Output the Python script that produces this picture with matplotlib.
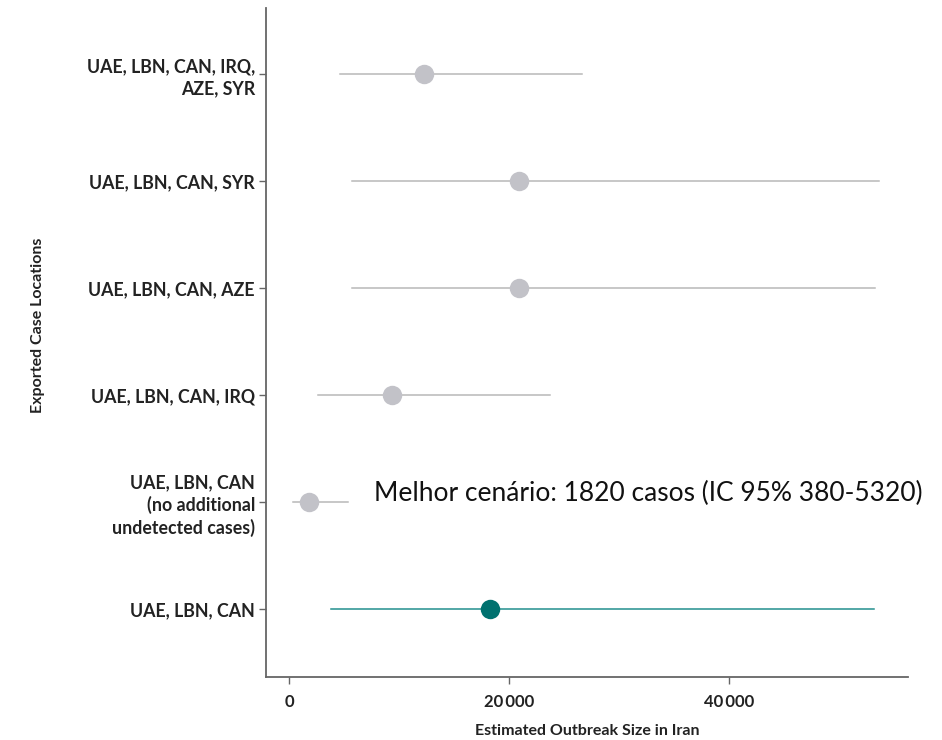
import matplotlib.pyplot as plt
from matplotlib.ticker import FuncFormatter

# scenarios, bottom to top
labels = ["UAE, LBN, CAN",
          "UAE, LBN, CAN\n(no additional\nundetected cases)",
          "UAE, LBN, CAN, IRQ",
          "UAE, LBN, CAN, AZE",
          "UAE, LBN, CAN, SYR",
          "UAE, LBN, CAN, IRQ,\nAZE, SYR"]
estimate = [18300, 1820, 9400, 20900, 20900, 12300]
lower = [3800, 380, 2600, 5700, 5700, 4600]
upper = [53200, 5320, 23700, 53300, 53600, 26600]
colors = ["#00716f", "#c2c2c8", "#c2c2c8", "#c2c2c8", "#c2c2c8", "#c2c2c8"]
line_colors = ["#23908e", "#b8b8b8", "#b8b8b8", "#b8b8b8", "#b8b8b8", "#b8b8b8"]
xticks = [0, 20000, 40000]
note = "Melhor cenário: 1820 casos (IC 95% 380-5320)"

plt.rcParams['font.family'] = ['Lato', 'DejaVu Sans']

fig = plt.figure(figsize=(9.42, 7.4), dpi=100)
ax = fig.add_axes([0.2824, 0.0851, 0.6816, 0.9039])

for i in range(len(labels)):
    ax.plot([lower[i], upper[i]], [i, i], color=line_colors[i], lw=1.1, zorder=1)
    ax.plot(estimate[i], i, 'o', color=colors[i], markersize=14,
            markeredgewidth=0, zorder=2)

ax.set_xlim(-2090, 56270)
ax.set_ylim(-0.636, 5.617)
ax.set_yticks(range(len(labels)))
ax.set_yticklabels(labels, fontsize=12.8, fontweight='bold', color='#222222',
                   linespacing=1.3)
ax.set_xticks(xticks)
ax.xaxis.set_major_formatter(FuncFormatter(
    lambda v, p: f"{int(v):,}".replace(",", "\u2009")))
for t in ax.get_xticklabels():
    t.set_fontsize(12)
    t.set_fontweight('bold')
    t.set_color('#222222')

for s in ['top', 'right']:
    ax.spines[s].set_visible(False)
for s in ['left', 'bottom']:
    ax.spines[s].set_color('#666666')
    ax.spines[s].set_linewidth(1.3)
ax.tick_params(axis='both', direction='out', length=5, color='#666666', width=1)
ax.tick_params(axis='y', pad=3)
ax.tick_params(axis='x', pad=7)

ax.set_xlabel("Estimated Outbreak Size in Iran", fontsize=11.5,
              fontweight='bold', color='#222222', va='center')
ax.xaxis.set_label_coords(0.5, -0.081)
ax.set_ylabel("Exported Case Locations", fontsize=11.5,
              fontweight='bold', color='#222222')
ax.yaxis.set_label_coords(-0.345, 0.526)

ax.text(7700, 1.08, note, fontsize=19, ha='left', va='center', color='#111111')

fig.savefig("out.png", dpi=100)
